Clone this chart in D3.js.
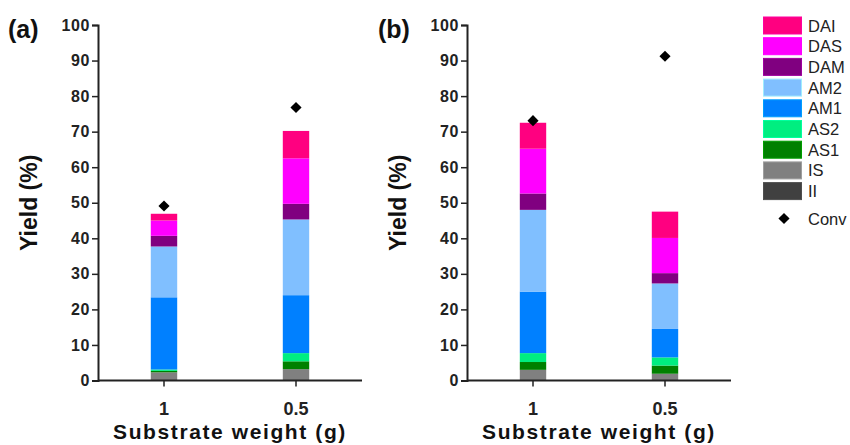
<!DOCTYPE html>
<html><head><meta charset="utf-8">
<script src="https://cdn.jsdelivr.net/npm/d3@7"></script>
<style>body{margin:0;background:#fff}svg{display:block}text{font-family:"Liberation Sans",Arial,sans-serif}</style>
</head><body><svg id="c" width="850" height="445"></svg>
<script>
const categories = ["1", "0.5"];
const seriesNames = ["II", "IS", "AS1", "AS2", "AM1", "AM2", "DAM", "DAS", "DAI"];
const seriesColors = ["#404040", "#808080", "#008000", "#00ee80", "#0080ff", "#80bfff", "#800080", "#ff00ff", "#ff0080"];
// panel (a) values per series [cat "1", cat "0.5"]
const aII  = [0.0, 0.0];
const aIS  = [2.3, 3.2];
const aAS1 = [0.4, 2.2];
const aAS2 = [0.4, 2.3];
const aAM1 = [20.3, 16.3];
const aAM2 = [14.3, 21.3];
const aDAM = [3.0, 4.4];
const aDAS = [4.3, 12.8];
const aDAI = [1.9, 7.7];
const aConv = [49.1, 76.8];
// panel (b)
const bII  = [0.0, 0.0];
const bIS  = [3.0, 1.9];
const bAS1 = [2.2, 2.3];
const bAS2 = [2.5, 2.3];
const bAM1 = [17.3, 8.0];
const bAM2 = [23.0, 12.8];
const bDAM = [4.6, 2.9];
const bDAS = [12.6, 9.9];
const bDAI = [7.3, 7.4];
const bConv = [73.1, 91.2];
const yTicks = [0, 10, 20, 30, 40, 50, 60, 70, 80, 90, 100];
const panelLabels = ["(a)", "(b)"];
const yTitle = "Yield (%)";
const xTitle = "Substrate weight (g)";

const panels = [
  {label: panelLabels[0], series: [aII, aIS, aAS1, aAS2, aAM1, aAM2, aDAM, aDAS, aDAI], conv: aConv, x0: 98, x1: 362, lx: 8},
  {label: panelLabels[1], series: [bII, bIS, bAS1, bAS2, bAM1, bAM2, bDAM, bDAS, bDAI], conv: bConv, x0: 467, x1: 731, lx: 378}
];

const svg = d3.select("#c");
const y = d3.scaleLinear().domain([0, 100]).range([380.5, 25]);
const axisColor = "#222";
const ff = '"Liberation Sans",Arial,sans-serif';

panels.forEach(p => {
  const x = d3.scaleBand().domain(categories).range([p.x0, p.x1]).paddingInner(0.8).paddingOuter(0.4);
  const rows = categories.map((c, i) => {
    const r = {cat: c};
    seriesNames.forEach((s, k) => r[s] = p.series[k][i]);
    return r;
  });
  const stacked = d3.stack().keys(seriesNames)(rows);
  const g = svg.append("g");
  stacked.forEach((layer, k) => {
    g.selectAll(null).data(layer).join("rect")
      .attr("x", d => x(d.data.cat))
      .attr("width", x.bandwidth())
      .attr("y", d => y(d[1]))
      .attr("height", d => Math.max(0, y(d[0]) - y(d[1])))
      .attr("fill", seriesColors[k]);
  });
  // conv diamonds
  g.selectAll(null).data(categories).join("path")
    .attr("d", d3.symbol().type(d3.symbolSquare).size(62))
    .attr("transform", (c, i) => `translate(${x(c) + x.bandwidth() / 2},${y(p.conv[i])}) rotate(45)`)
    .attr("fill", "#000");
  // y axis
  const ya = svg.append("g").attr("transform", `translate(${p.x0},0)`)
    .call(d3.axisLeft(y).tickValues(yTicks).tickSize(6).tickPadding(2));
  ya.select(".domain").attr("stroke", axisColor).attr("stroke-width", 2);
  ya.selectAll(".tick line").attr("stroke", axisColor).attr("stroke-width", 1.5);
  ya.selectAll(".tick text").attr("font-size", 16).attr("font-weight", "bold").attr("fill", "#222")
    .attr("letter-spacing", 0.6).style("font-family", ff);
  // x axis
  const xa = svg.append("g").attr("transform", `translate(0,${y(0)})`)
    .call(d3.axisBottom(x).tickSize(6).tickSizeOuter(0).tickPadding(16));
  xa.select(".domain").attr("stroke", axisColor).attr("stroke-width", 2)
    .attr("d", `M${p.x0},0H${p.x1}`);
  xa.selectAll(".tick line").attr("stroke", axisColor).attr("stroke-width", 1.5);
  xa.selectAll(".tick text").attr("font-size", 18).attr("font-weight", "bold").attr("fill", "#222")
    .style("font-family", ff);
  // titles
  svg.append("text").attr("x", (p.x0 + p.x1) / 2).attr("y", 439)
    .attr("text-anchor", "middle").attr("font-size", 21).attr("font-weight", "bold").attr("fill", "#111")
    .attr("letter-spacing", 1.6).text(xTitle);
  svg.append("text").attr("transform", `translate(${p.x0 - 61},${y(50)}) rotate(-90)`)
    .attr("text-anchor", "middle").attr("font-size", 23).attr("font-weight", "bold").attr("fill", "#111").text(yTitle);
  svg.append("text").attr("x", p.lx).attr("y", 38)
    .attr("font-size", 25).attr("font-weight", "bold").attr("fill", "#111").text(p.label);
});

// legend
const leg = svg.append("g");
const legOrder = seriesNames.map((s, k) => ({name: s, color: seriesColors[k]})).reverse();
legOrder.forEach((d, i) => {
  const yy = 17 + i * 20.7;
  leg.append("rect").attr("x", 763.5).attr("y", yy).attr("width", 38).attr("height", 17)
    .attr("fill", d.color).attr("stroke", d3.color(d.color).brighter(0.6)).attr("stroke-width", 1);
  leg.append("text").attr("x", 808).attr("y", yy + 14.5).attr("font-size", 16.5).attr("fill", "#222").text(d.name);
});
leg.append("path").attr("d", d3.symbol().type(d3.symbolSquare).size(62))
  .attr("transform", "translate(784,218.5) rotate(45)").attr("fill", "#000");
leg.append("text").attr("x", 808).attr("y", 224.5).attr("font-size", 16.5).attr("fill", "#222").text("Conv");
</script></body></html>
